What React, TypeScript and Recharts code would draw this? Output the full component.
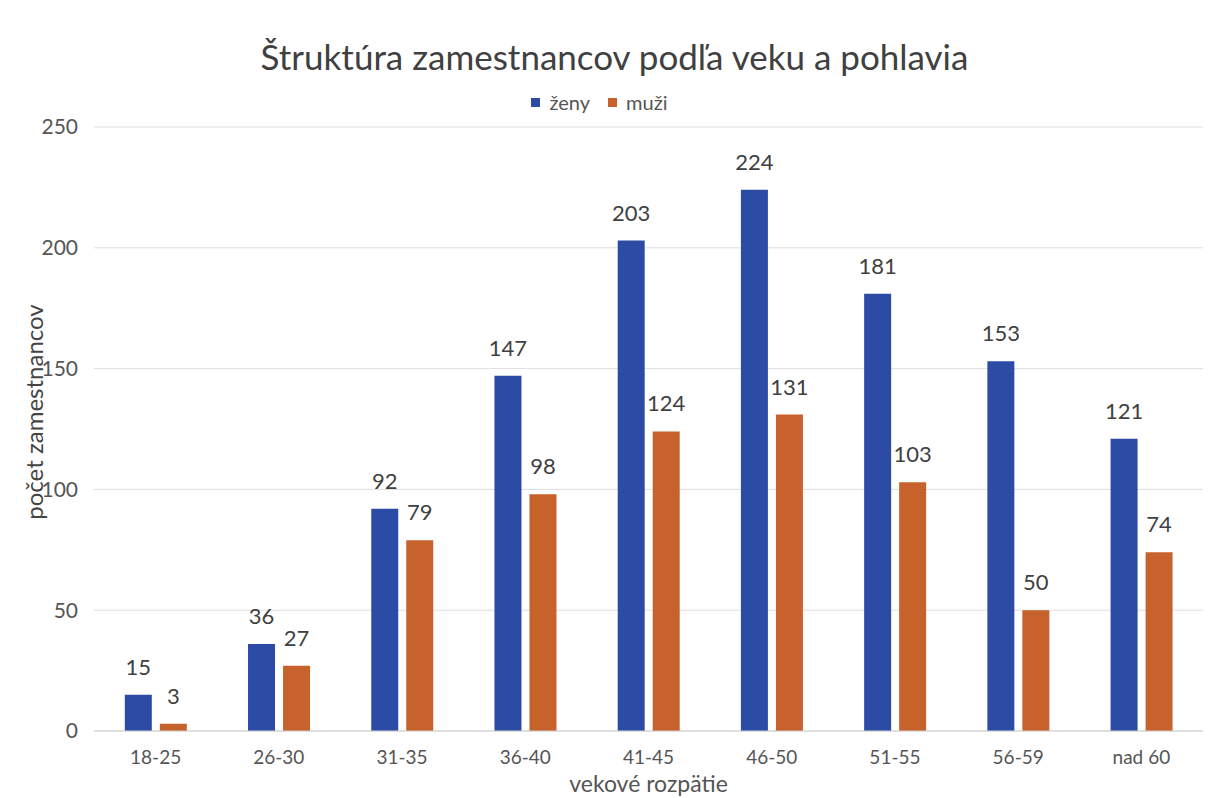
import React from "react";
import { BarChart, Bar, XAxis, YAxis, CartesianGrid, LabelList, Label } from "recharts";

const categories = ["18-25", "26-30", "31-35", "36-40", "41-45", "46-50", "51-55", "56-59", "nad 60"];
const zeny = [15, 36, 92, 147, 203, 224, 181, 153, 121];
const muzi = [3, 27, 79, 98, 124, 131, 103, 50, 74];
const yTicks = [0, 50, 100, 150, 200, 250];

const BLUE = "#2c4ba5";
const ORANGE = "#c8622c";
const FONT = "Lato, 'Open Sans', sans-serif";

const data = categories.map((c, i) => ({ name: c, zeny: zeny[i], muzi: muzi[i] }));

const YTitle = (props: any) => {
  const vb = props.viewBox || { x: 0, y: 0, width: 0, height: 0 };
  const cx = 33;
  const cy = vb.y + vb.height / 2 - 17;
  return (
    <text
      x={cx}
      y={cy}
      transform={`rotate(-90, ${cx}, ${cy})`}
      textAnchor="middle"
      dominantBaseline="central"
      style={{ fill: "#444", fontSize: 24, fontFamily: FONT }}
    >
      počet zamestnancov
    </text>
  );
};

export default function App() {
  return (
    <div style={{ position: "absolute", left: 0, top: 0, width: 1209, height: 798, background: "#fff", fontFamily: FONT }}>
      <div style={{ position: "absolute", top: 34, left: 10, width: 1209, textAlign: "center", fontSize: 35, color: "#404040", lineHeight: "44px" }}>
        Štruktúra zamestnancov podľa veku a pohlavia
      </div>
      <div style={{ position: "absolute", top: 89, left: 0, width: 1199, display: "flex", justifyContent: "center", fontSize: 20, color: "#555", gap: 18, lineHeight: "26px" }}>
        <span style={{ display: "flex", alignItems: "center", gap: 9 }}>
          <span style={{ width: 9, height: 9, background: BLUE, display: "inline-block" }} />ženy
        </span>
        <span style={{ display: "flex", alignItems: "center", gap: 9 }}>
          <span style={{ width: 9, height: 9, background: ORANGE, display: "inline-block" }} />muži
        </span>
      </div>
      <BarChart
        width={1209}
        height={798}
        data={data}
        margin={{ top: 127, right: 6, bottom: 37, left: 34 }}
        barCategoryGap="25%"
        barGap={8}
        style={{ position: "absolute", left: 0, top: 0 }}
      >
        <CartesianGrid horizontal vertical={false} stroke="#dedede" />
        <XAxis
          dataKey="name"
          axisLine={{ stroke: "#d0d0d0" }}
          tickLine={false}
          tickMargin={14}
          tick={{ fill: "#555", fontSize: 19, fontFamily: FONT }}
          interval={0}
        >
          <Label value="vekové rozpätie" position="bottom" offset={15} style={{ fill: "#555", fontSize: 23, fontFamily: FONT }} />
        </XAxis>
        <YAxis
          domain={[0, 250]}
          ticks={yTicks}
          width={60}
          axisLine={false}
          tickLine={false}
          tickMargin={10}
          tick={{ fill: "#555", fontSize: 21, fontFamily: FONT }}
        >
          <Label content={YTitle} />
        </YAxis>
        <Bar dataKey="zeny" fill={BLUE} isAnimationActive={false}>
          <LabelList dataKey="zeny" position="top" offset={20} style={{ fill: "#404040", fontSize: 22, fontFamily: FONT }} />
        </Bar>
        <Bar dataKey="muzi" fill={ORANGE} isAnimationActive={false}>
          <LabelList dataKey="muzi" position="top" offset={20} style={{ fill: "#404040", fontSize: 22, fontFamily: FONT }} />
        </Bar>
      </BarChart>
    </div>
  );
}
